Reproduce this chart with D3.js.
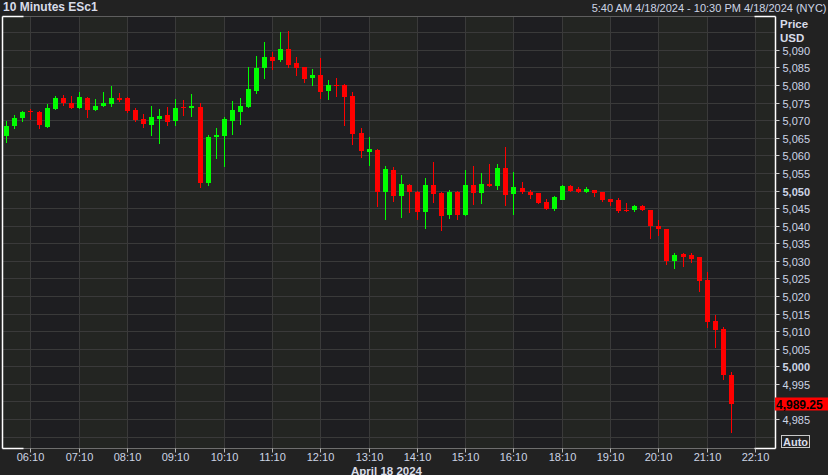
<!DOCTYPE html>
<html><head><meta charset="utf-8">
<script src="https://cdn.jsdelivr.net/npm/d3@7"></script>
<style>html,body{margin:0;padding:0;background:#222222;overflow:hidden}svg{display:block}</style>
</head><body><svg id="c" width="828" height="475"></svg>
<script>
// ---- data ----
const times = ["05:40","05:50","06:00","06:10","06:20","06:30","06:40","06:50","07:00","07:10","07:20","07:30","07:40","07:50","08:00","08:10","08:20","08:30","08:40","08:50","09:00","09:10","09:20","09:30","09:40","09:50","10:00","10:10","10:20","10:30","10:40","10:50","11:00","11:10","11:20","11:30","11:40","11:50","12:00","12:10","12:20","12:30","12:40","12:50","13:00","13:10","13:20","13:30","13:40","13:50","14:00","14:10","14:20","14:30","14:40","14:50","15:00","15:10","15:20","15:30","15:40","15:50","16:00","16:10","16:20","16:30","16:40","16:50","18:00","18:10","18:20","18:30","18:40","18:50","19:00","19:10","19:20","19:30","19:40","19:50","20:00","20:10","20:20","20:30","20:40","20:50","21:00","21:10","21:20","21:30","21:40"];
const emptySlots = ["21:50","22:00","22:10","22:20"];
const open = [5065.5,5068.25,5070.75,5072.5,5072.25,5068,5073.25,5076.25,5075,5073.5,
5076.25,5073,5074,5074.5,5076.25,5076.25,5073,5070.25,5068.75,5070.25,
5071.5,5069.75,5073.75,5073.5,5073.75,5052.25,5065.25,5065.5,5069.75,5072.25,
5073.75,5078.25,5084.75,5088,5087,5090.25,5086.25,5085,5082,5082.75,
5078.25,5080,5080,5076.75,5066.25,5061,5061.5,5049.5,5055.75,5048.5,
5051.5,5049.5,5044,5051.5,5049.25,5043,5049.5,5043,5051.5,5049.25,
5051.75,5051.25,5056.5,5049,5050.75,5049.5,5049.25,5046.75,5044.75,5047.25,
5051.25,5050.5,5049.5,5050.25,5049.5,5047.5,5047.25,5044.5,5044.5,5045.5,
5044.5,5040,5039,5030,5032,5031.75,5031,5024.5,5012.75,5010.5,
4997.5];
const high = [5069.75,5071.5,5072.5,5073.25,5072.5,5074.5,5077,5077.25,5077,5078,
5076.5,5076,5078,5079.75,5077.75,5076.5,5073.5,5071.75,5074,5073.25,
5073.75,5076,5075.75,5077.5,5075,5065.75,5067.75,5071,5075.5,5076.25,
5085.25,5088.25,5092.25,5089.5,5095,5095.5,5088,5085.25,5084.5,5087.75,
5081.5,5082,5080.25,5078,5067.75,5065.25,5061.75,5057,5056.75,5054.5,
5051.75,5049.75,5053.5,5058,5049.5,5050.25,5049.75,5055.75,5057,5055,
5057.5,5057.5,5062.5,5055.25,5052.5,5050.25,5049.25,5047.5,5048.5,5051.5,
5051.5,5051,5051,5050.25,5049.5,5047.5,5047.75,5046.5,5046,5045.75,
5044.5,5041.75,5039,5032.25,5032.25,5032.25,5031,5026.75,5014.5,5011.25,
4998.25];
const low = [5063.5,5067.5,5069.5,5070,5067.5,5067.75,5073,5074,5073.25,5073.25,
5070.5,5072.75,5073.75,5073.75,5075.25,5072,5069.5,5067.75,5065.5,5063.25,
5068.25,5068.25,5071.25,5071,5050.75,5051.25,5059,5056.75,5065.75,5068.5,
5073.5,5077.5,5081.75,5084.25,5086.5,5084.75,5082.5,5080.5,5079.75,5076,
5075.75,5076.5,5068.25,5063,5059.25,5057,5045.25,5041.5,5046.75,5042.25,
5043.5,5041.5,5039,5046.5,5038.5,5042,5041.5,5042.75,5046,5046.25,
5051,5050.25,5045.5,5043,5049,5047.5,5046.25,5044.5,5044.25,5047.25,
5049.5,5049.25,5049.25,5048.25,5046.75,5045.5,5043.5,5044,5043.75,5044.25,
5036.25,5037,5028.75,5027.75,5028.25,5029.5,5021,5011,5005.25,4996,
4981];
const close = [5068.25,5070.75,5072.25,5072.25,5068.5,5073.5,5076.25,5075,5073.5,5076.5,
5073,5074,5075,5076.25,5075.75,5072.5,5070,5069,5071,5071.25,
5069.5,5073.5,5073.5,5074,5052.25,5065.25,5065.75,5070.25,5073,5074,
5079,5084.75,5088,5086.75,5090.25,5085.75,5084.75,5081.75,5082.75,5078,
5080,5079.75,5076.5,5066,5061.25,5061.75,5049.5,5056,5048.5,5051.75,
5049.5,5044,5051.5,5049,5042.75,5049.5,5043,5051.5,5049.25,5051.75,
5051.25,5056.5,5048.75,5051,5049.5,5048.75,5046.5,5044.75,5048.25,5051.25,
5050,5049.5,5050.5,5049.25,5047.25,5046.75,5044.25,5044.25,5045.5,5044.5,
5040,5039,5030,5031.75,5031,5030.5,5024.25,5012.5,5010.25,4997.5,
4989.25];
const xTickLabels = ["06:10","07:10","08:10","09:10","10:10","11:10","12:10","13:10","14:10","15:10","16:10","18:10","19:10","20:10","21:10","22:10"];
const boldPrices = [5050, 5000];
const hiddenPrices = [4990];
const lastPriceLabel = "4,989.25";
const title = "10 Minutes ESc1";
const rangeText = "5:40 AM 4/18/2024 - 10:30 PM 4/18/2024 (NYC)";
const dateLabel = "April 18 2024";

// ---- layout ----
const L = 2.5, R = 775.5, T = 16.5, B = 448.5;
const FONT = "'Liberation Sans', Arial, sans-serif";
const TXT = "#cdd5e6";
const svg = d3.select("#c");
svg.append("rect").attr("width",828).attr("height",475).attr("fill","#222222");

const slots = times.concat(emptySlots);
const x = d3.scalePoint().domain(slots).range([6.3, 6.3 + (slots.length-1)*8.05]);
const y = d3.scaleLinear().domain([4985, 5090]).range([419, 49.9]);

// bands between hour ticks
const tx = xTickLabels.map(t => Math.round(x(t)) + 0.5);
const edges = [L].concat(tx).concat([R]);
for (let i = 0; i < edges.length - 1; i++) {
  svg.append("rect").attr("x", edges[i]).attr("y", T).attr("width", edges[i+1]-edges[i]).attr("height", B-T)
    .attr("fill", i % 2 === 0 ? "#232522" : "#1e1e21");
}
// grid
const gy = d3.scaleLinear().domain([4980, 5095]).ticks(25).filter(v => v % 5 === 0);
svg.append("g").selectAll("line").data(gy).join("line")
  .attr("x1", L).attr("x2", R).attr("y1", d => Math.round(y(d))+0.5).attr("y2", d => Math.round(y(d))+0.5)
  .attr("stroke", "#3a3a3a").attr("stroke-width", 1);
svg.append("g").selectAll("line").data(tx).join("line")
  .attr("x1", d => d).attr("x2", d => d).attr("y1", T).attr("y2", B)
  .attr("stroke", "#3a3a3a").attr("stroke-width", 1);

// candles
const data = times.map((t, i) => ({t, o: open[i], h: high[i], l: low[i], c: close[i]}));
const cg = svg.append("g");
data.forEach(d => {
  const cx = Math.round(x(d.t));
  const col = d.c >= d.o ? "#00ff00" : "#ff0000";
  const yh = Math.round(y(d.h)), yl = Math.round(y(d.l));
  cg.append("rect").attr("x", cx).attr("y", yh).attr("width", 1).attr("height", Math.max(1, yl-yh)).attr("fill", col);
  const bt = Math.round(y(Math.max(d.o, d.c))), bb = Math.round(y(Math.min(d.o, d.c)));
  cg.append("rect").attr("x", cx-2).attr("y", bt).attr("width", 5).attr("height", Math.max(1, bb-bt)).attr("fill", col);
});

// frame lines
svg.append("line").attr("x1",L).attr("x2",R).attr("y1",T).attr("y2",T).attr("stroke","#5e5e5e");
svg.append("line").attr("x1",L).attr("x2",R).attr("y1",B).attr("y2",B).attr("stroke","#6e6e6e");
const W = "#ffffff";
[[L,T,L,B],[R,T,R,B],[L,T,L+21,T],[L,B,L+21,B],[R-21,T,R,T],[R-21,B,R,B]].forEach(s =>
  svg.append("line").attr("x1",s[0]).attr("y1",s[1]).attr("x2",s[2]).attr("y2",s[3]).attr("stroke",W).attr("stroke-width",1.5));

// y axis
const yAxis = d3.axisRight(y).tickValues(y.ticks(22).filter(v => !hiddenPrices.includes(v))).tickSize(4).tickPadding(3)
  .tickFormat(d3.format(","));
const ya = svg.append("g").attr("transform", `translate(${R},0)`).call(yAxis);
ya.select(".domain").remove();
ya.selectAll(".tick line").attr("stroke", "#d0d0d0");
ya.selectAll(".tick").attr("transform", d => `translate(0,${Math.round(y(d))+0.5})`);
ya.selectAll(".tick text").attr("fill", TXT).attr("font-family", FONT).attr("font-size", 11)
  .attr("dy", "0.45em").attr("font-weight", d => boldPrices.includes(d) ? "bold" : "normal");

// x axis
const xAxis = d3.axisBottom(x).tickValues(xTickLabels).tickSize(4).tickPadding(2);
const xa = svg.append("g").call(xAxis);
xa.select(".domain").remove();
xa.selectAll(".tick").attr("transform", d => `translate(${Math.round(x(d))+0.5},${B})`);
xa.selectAll(".tick line").attr("stroke", "#bbbbbb");
xa.selectAll(".tick text").attr("fill", TXT).attr("font-family", FONT).attr("font-size", 11).attr("y", 5).attr("dy", "0.71em");

// texts
svg.append("text").attr("x", 3).attr("y", 11).text(title).attr("fill", "#d8dce8")
  .attr("font-family", FONT).attr("font-size", 12).attr("font-weight", "bold");
svg.append("text").attr("x", 826.5).attr("y", 11.5).attr("text-anchor", "end").text(rangeText)
  .attr("fill", TXT).attr("font-family", FONT).attr("font-size", 11);
svg.append("text").attr("x", 780).attr("y", 27.5).text("Price").attr("fill", "#d8dce8")
  .attr("font-family", FONT).attr("font-size", 11.5).attr("font-weight", "bold");
svg.append("text").attr("x", 780).attr("y", 42).text("USD").attr("fill", "#d8dce8")
  .attr("font-family", FONT).attr("font-size", 11.5).attr("font-weight", "bold");
svg.append("text").attr("x", 351).attr("y", 474.5).text(dateLabel).attr("fill", "#d8dce8")
  .attr("font-family", FONT).attr("font-size", 11.5).attr("font-weight", "bold");

// last price label
const lastY = y(close[close.length-1]);
svg.append("rect").attr("x", 775).attr("y", Math.round(lastY) - 6.5).attr("width", 53).attr("height", 13).attr("fill", "#ff0000");
svg.append("text").attr("x", 776).attr("y", Math.round(lastY) + 4.5).text(lastPriceLabel).attr("fill", "#000")
  .attr("font-family", FONT).attr("font-size", 12).attr("font-weight", "bold");

// Auto box
svg.append("rect").attr("x", 781.5).attr("y", 435.5).attr("width", 28).attr("height", 12).attr("fill", "none").attr("stroke", "#c8c8c8");
svg.append("text").attr("x", 795.5).attr("y", 445.5).attr("text-anchor", "middle").text("Auto").attr("fill", "#d8dce8")
  .attr("font-family", FONT).attr("font-size", 11).attr("font-weight", "bold");
</script></body></html>
